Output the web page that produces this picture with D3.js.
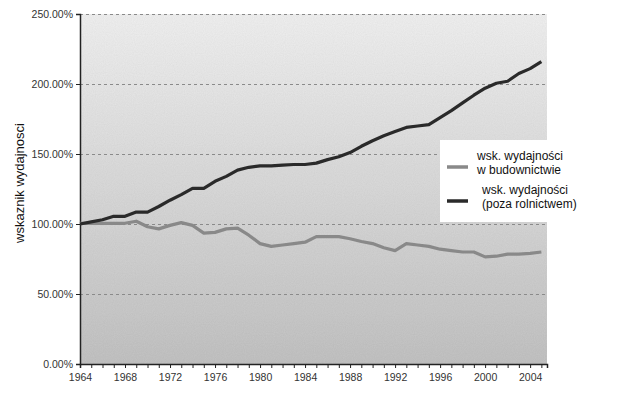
<!DOCTYPE html>
<meta charset="utf-8">
<style>
body { margin: 0; background: #fff; }
svg text { font-family: "Liberation Sans", Arial, sans-serif; }
.grid line { stroke: #8a8a8a; stroke-dasharray: 3,3; stroke-width: 1; }
.axis path, .axis line { stroke: #222; }
.axis text { fill: #333; font-size: 10.5px; }
.series { fill: none; stroke-width: 3.2px; stroke-linejoin: round; }
.legend text { font-size: 12px; fill: #111; }
</style>
<svg width="635" height="393"></svg>
<script src="https://cdnjs.cloudflare.com/ajax/libs/d3/7.8.5/d3.min.js"></script>
<script>

var years = d3.range(1964, 2006);

// wsk. wydajnosci w budownictwie (%)
var budownictwo = [100.5, 100.5, 100.5, 100.5, 100.5, 102, 98, 96.5, 99, 101,
  99, 93.5, 94, 96.5, 97, 92, 86, 84, 85, 86,
  87, 91, 91, 91, 89.5, 87.5, 86, 83, 81, 86,
  85, 84, 82, 81, 80, 80, 76.5, 77, 78.5, 78.5,
  79, 80];

// wsk. wydajnosci poza rolnictwem (%)
var pozaRolnictwem = [100, 101.5, 103, 105.5, 105.5, 108.5, 108.5, 112.5, 117, 121,
  125.5, 125.5, 130.5, 134, 138.5, 140.5, 141.5, 141.5, 142, 142.5,
  142.5, 143.5, 146, 148, 151, 155.5, 159.5, 163, 166, 169,
  170, 171, 176, 181, 186.5, 192, 197, 200.5, 202, 207.5,
  211, 216];

var yTicks = [0, 50, 100, 150, 200, 250];
var xLabels = [1964, 1968, 1972, 1976, 1980, 1984, 1988, 1992, 1996, 2000, 2004];

var svg = d3.select("svg");
var pLeft = 80, pRight = 547, pTop = 14, pBottom = 364;

var x = d3.scaleLinear().domain([1964, 2005.5]).range([pLeft, pRight]);
var y = d3.scaleLinear().domain([0, 250]).range([pBottom, pTop]);

// background gradient of the plot area
var defs = svg.append("defs");
var grad = defs.append("linearGradient")
    .attr("id", "bg").attr("x1", 0).attr("y1", 0).attr("x2", 0).attr("y2", 1);
grad.append("stop").attr("offset", "0%").attr("stop-color", "#f1f1f1");
grad.append("stop").attr("offset", "100%").attr("stop-color", "#c3c3c3");

var noise = defs.append("filter").attr("id", "noise")
    .attr("x", 0).attr("y", 0).attr("width", "100%").attr("height", "100%");
noise.append("feTurbulence").attr("type", "fractalNoise")
    .attr("baseFrequency", 0.9).attr("numOctaves", 1).attr("result", "t");
noise.append("feColorMatrix").attr("in", "t").attr("type", "matrix")
    .attr("values", "0 0 0 0 0  0 0 0 0 0  0 0 0 0 0  0 0 0 0.12 0")
    .attr("result", "n");
noise.append("feComposite").attr("in", "n").attr("in2", "SourceGraphic").attr("operator", "in").attr("result", "m");
noise.append("feMerge").selectAll("feMergeNode").data(["SourceGraphic", "m"])
    .enter().append("feMergeNode").attr("in", function(d) { return d; });

svg.append("rect")
    .attr("x", pLeft).attr("y", pTop)
    .attr("width", pRight - pLeft).attr("height", pBottom - pTop)
    .attr("fill", "url(#bg)")
    .attr("filter", "url(#noise)");

// dashed grid
svg.append("g").attr("class", "grid")
  .selectAll("line")
  .data(yTicks.slice(1))
  .enter().append("line")
    .attr("x1", pLeft).attr("x2", pRight)
    .attr("y1", function(d) { return Math.round(y(d)) + 0.5; })
    .attr("y2", function(d) { return Math.round(y(d)) + 0.5; });

// y axis
svg.append("g").attr("class", "axis")
    .attr("transform", "translate(" + pLeft + ",0)")
    .call(d3.axisLeft(y).tickValues(yTicks).tickSize(4).tickPadding(3)
      .tickFormat(function(d) { return d.toFixed(2) + "%"; }));

// x axis: tick every year, labels every 4 years
svg.append("g").attr("class", "axis")
    .attr("transform", "translate(0," + pBottom + ")")
    .call(d3.axisBottom(x).tickValues(years.concat([2005.5])).tickSize(4).tickPadding(6)
      .tickFormat(function(d) { return xLabels.indexOf(d) >= 0 ? d : ""; }));
svg.selectAll(".axis .domain").attr("stroke-width", 1.5);

var line = d3.line()
    .x(function(d, i) { return x(years[i]); })
    .y(function(d) { return y(d); });

svg.append("path").attr("class", "series")
    .attr("stroke", "#898989")
    .attr("d", line(budownictwo));

svg.append("path").attr("class", "series")
    .attr("stroke", "#2a2a2a")
    .attr("d", line(pozaRolnictwem));

// y label
svg.append("text")
    .attr("transform", "translate(24,183) rotate(-90)")
    .attr("text-anchor", "middle")
    .attr("font-size", "13px")
    .attr("fill", "#111")
    .text("wskaznik wydajnosci");

// legend
var legend = svg.append("g").attr("class", "legend");
legend.append("rect")
    .attr("x", 440).attr("y", 140).attr("width", 143).attr("height", 82)
    .attr("fill", "#fff");

var items = [
  { color: "#898989", lines: ["wsk. wydajności", "w budownictwie"], ly: 167, ty: 160, tx: 477 },
  { color: "#2a2a2a", lines: ["wsk. wydajności", "(poza rolnictwem)"], ly: 201, ty: 194, tx: 482 }
];
items.forEach(function(it) {
  legend.append("line")
    .attr("x1", 447).attr("x2", 468)
    .attr("y1", it.ly).attr("y2", it.ly)
    .attr("stroke", it.color).attr("stroke-width", 3.5);
  it.lines.forEach(function(t, j) {
    legend.append("text")
      .attr("x", it.tx)
      .attr("y", it.ty + j * 14)
      .text(t);
  });
});

</script>
